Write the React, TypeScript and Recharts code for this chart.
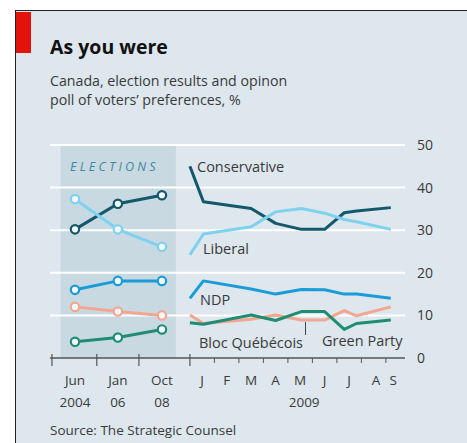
import React from "react";
import {
  LineChart,
  Line,
  XAxis,
  YAxis,
  ReferenceArea,
  ReferenceLine,
} from "recharts";

// election results (three general elections, shaded block)
const electionX = [-4.69, -2.94, -1.14];
const electionMonths = ["Jun", "Jan", "Oct"];
const electionYears = ["2004", "06", "08"];
const conservativeElections = [30.2, 36.2, 38.2];
const liberalElections = [37.3, 30.2, 26.1];
const ndpElections = [16.0, 18.1, 18.1];
const blocElections = [12.0, 10.9, 10.0];
const greenElections = [3.8, 4.8, 6.7];

// 2009 opinion polls (x = months after Jan 1st 2009)
const pollX = [0, 0.55, 2.5, 3.5, 4.55, 5.5, 6.3, 6.8, 8.2];
const conservativePolls = [45.0, 36.7, 35.1, 31.6, 30.2, 30.2, 34.1, 34.5, 35.3];
const liberalPolls = [24.2, 29.1, 30.8, 34.3, 35.1, 34.0, 32.5, 32.0, 30.2];
const ndpPolls = [14.0, 18.1, 16.2, 15.0, 16.1, 16.0, 15.0, 15.0, 14.0];
const blocPolls = [10.1, 8.1, 9.1, 10.1, 8.9, 8.9, 11.1, 9.9, 12.0];
const greenPolls = [8.3, 7.9, 10.1, 8.8, 10.9, 10.9, 6.7, 8.1, 8.9];

const monthLabels = ["J", "F", "M", "A", "M", "J", "J", "A", "S"];
const monthLabelX = [0.5, 1.5, 2.5, 3.5, 4.5, 5.5, 6.5, 7.6, 8.3];
const yTicks = [0, 10, 20, 30, 40, 50];

const majorTicks = [-5.63, -3.8, -2.08, 0];
const minorTicks = [1, 2, 3, 4, 5, 6, 7, 8];

const COLORS = {
  conservative: "#13586b",
  liberal: "#7fd2ef",
  ndp: "#1b9cd8",
  bloc: "#f3a690",
  green: "#1f8d74",
};

const FONT = "'Open Sans', sans-serif";
const TEXT = "#3a3a3a";

const toRows = (xs: number[], vs: number[]) => xs.map((x, i) => ({ x, v: vs[i] }));

const series = [
  { key: "conservative", e: conservativeElections, p: conservativePolls },
  { key: "liberal", e: liberalElections, p: liberalPolls },
  { key: "ndp", e: ndpElections, p: ndpPolls },
  { key: "bloc", e: blocElections, p: blocPolls },
  { key: "green", e: greenElections, p: greenPolls },
];

const allXTicks = [...majorTicks, ...minorTicks, ...electionX, ...monthLabelX];

const XTick = (props: any) => {
  const { x, y, payload } = props;
  const v = payload.value;
  if (majorTicks.includes(v)) {
    return <line x1={x} x2={x} y1={y - 4} y2={y + 8} stroke="#555" strokeWidth={1.2} />;
  }
  if (minorTicks.includes(v)) {
    return <line x1={x} x2={x} y1={y} y2={y + 5} stroke="#555" strokeWidth={1} />;
  }
  const ei = electionX.indexOf(v);
  if (ei >= 0) {
    return (
      <g fontFamily={FONT} fontSize={13.5} fill={TEXT} textAnchor="middle">
        <text x={x} y={y + 27}>{electionMonths[ei]}</text>
        <text x={x} y={y + 49}>{electionYears[ei]}</text>
      </g>
    );
  }
  const mi = monthLabelX.indexOf(v);
  if (mi >= 0) {
    return (
      <g fontFamily={FONT} fontSize={13.5} fill={TEXT} textAnchor="middle">
        <text x={x} y={y + 27}>{monthLabels[mi]}</text>
        {mi === 4 && <text x={x + 4} y={y + 49}>2009</text>}
      </g>
    );
  }
  return null;
};

const YTick = (props: any) => {
  const { x, y, payload } = props;
  return (
    <text x={x + 12} y={y + 5} fontFamily={FONT} fontSize={14} fill={TEXT} textAnchor="start">
      {payload.value}
    </text>
  );
};

const label = (text: React.ReactNode, left: number, top: number, extra: React.CSSProperties = {}) => (
  <div
    style={{
      position: "absolute",
      left,
      top,
      fontFamily: FONT,
      fontSize: 14.5,
      color: TEXT,
      whiteSpace: "nowrap",
      lineHeight: "18px",
      ...extra,
    }}
  >
    {text}
  </div>
);

export default function App() {
  return (
    <div style={{ position: "absolute", left: 0, top: 0, width: 467, height: 443, background: "#fff", overflow: "hidden" }}>
      <div
        style={{
          position: "absolute",
          left: 15,
          top: 10,
          width: 452,
          height: 433,
          background: "#dde7ed",
          borderTop: "1.5px solid #222",
          borderLeft: "1.5px solid #222",
        }}
      />
      <div style={{ position: "absolute", left: 16, top: 12, width: 15, height: 41, background: "#e3120b" }} />
      {label("As you were", 50, 35, { fontSize: 19.5, fontWeight: 700, color: "#111", lineHeight: "24px" })}
      {label("Canada, election results and opinon", 50, 72, { fontSize: 14.2 })}
      {label("poll of voters\u2019 preferences, %", 50, 91, { fontSize: 14.2 })}

      <div style={{ position: "absolute", left: 0, top: 0 }}>
        <LineChart width={467} height={443} margin={{ top: 145, right: 22, bottom: 0, left: 50 }}>
          <XAxis
            dataKey="x"
            type="number"
            domain={[-5.71, 8.78]}
            ticks={allXTicks}
            interval={0}
            tick={<XTick />}
            tickLine={false}
            tickSize={0}
            tickMargin={0}
            axisLine={{ stroke: "#555", strokeWidth: 1.5 }}
            height={85}
            allowDataOverflow
          />
          <YAxis
            orientation="right"
            domain={[0, 50]}
            ticks={yTicks}
            tick={<YTick />}
            tickLine={false}
            tickSize={0}
            tickMargin={0}
            axisLine={false}
            width={40}
          />
          <ReferenceArea x1={-5.28} x2={-0.57} y1={0} y2={50} fill="#c9d9e2" fillOpacity={1} stroke="none" />
          {yTicks
            .filter((t) => t > 0)
            .map((t) => (
              <ReferenceLine key={t} y={t} stroke="#ffffff" strokeWidth={2} />
            ))}
          {series.map((s) => (
            <Line
              key={s.key + "-e"}
              data={toRows(electionX, s.e)}
              dataKey="v"
              stroke={COLORS[s.key as keyof typeof COLORS]}
              strokeWidth={3}
              dot={{ r: 4.2, fill: "#f2f8fb", stroke: COLORS[s.key as keyof typeof COLORS], strokeWidth: 2.2 }}
              isAnimationActive={false}
            />
          ))}
          {series.map((s) => (
            <Line
              key={s.key + "-p"}
              data={toRows(pollX, s.p)}
              dataKey="v"
              stroke={COLORS[s.key as keyof typeof COLORS]}
              strokeWidth={3}
              strokeLinejoin="round"
              dot={false}
              isAnimationActive={false}
            />
          ))}
        </LineChart>
      </div>

      {label("ELECTIONS", 70, 158, { fontSize: 12.5, fontStyle: "italic", letterSpacing: 3.2, color: "#3b8aa1" })}
      {label("Conservative", 197, 158)}
      {label("Liberal", 203, 240)}
      {label("NDP", 200, 291)}
      {label("Bloc Qu\u00e9b\u00e9cois", 199, 334)}
      {label("Green Party", 322, 332)}
      <div style={{ position: "absolute", left: 304.5, top: 322, width: 1, height: 13, background: "#444" }} />
      {label("Source: The Strategic Counsel", 50, 421, { fontSize: 13.5 })}
    </div>
  );
}
